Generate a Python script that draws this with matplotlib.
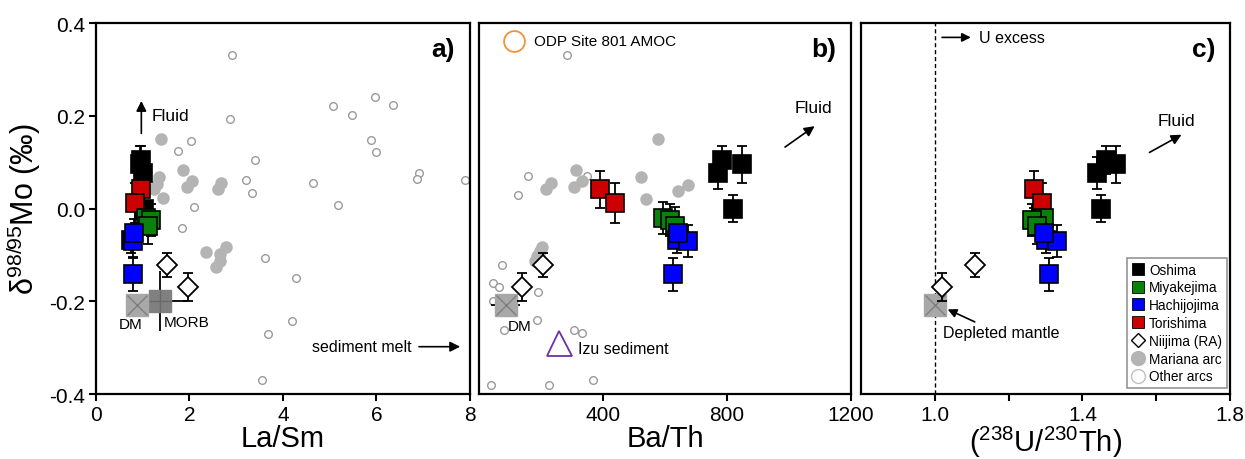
import numpy as np
import matplotlib
matplotlib.use("Agg")
import matplotlib.pyplot as plt
from matplotlib.lines import Line2D

plt.rcParams['font.family'] = ['Liberation Sans', 'DejaVu Sans']
plt.rcParams['mathtext.default'] = 'regular'

# island data: delta98/95Mo, 2sd error, La/Sm, Ba/Th, (238U/230Th)
oshima_mo = [0.077, 0.095, 0.0, 0.105]
oshima_err = [0.035, 0.04, 0.03, 0.03]
oshima_lasm = [1.0, 0.95, 1.03, 0.97]
oshima_bath = [772, 847, 818, 783]
oshima_uth = [1.44, 1.49, 1.45, 1.465]

miyake_mo = [-0.02, -0.025, -0.037]
miyake_err = [0.035, 0.035, 0.04]
miyake_lasm = [1.07, 1.18, 1.12]
miyake_bath = [595, 616, 632]
miyake_uth = [1.296, 1.264, 1.278]

hachi_mo = [-0.067, -0.07, -0.052, -0.142]
hachi_err = [0.03, 0.035, 0.03, 0.035]
hachi_lasm = [0.75, 0.8, 0.81, 0.79]
hachi_bath = [638, 675, 643, 625]
hachi_uth = [1.30, 1.33, 1.297, 1.31]

tori_mo = [0.041, 0.011]
tori_err = [0.04, 0.043]
tori_lasm = [0.97, 0.84]
tori_bath = [390, 439]
tori_uth = [1.27, 1.29]

niijima_mo = [-0.122, -0.17]
niijima_err = [0.025, 0.03]
niijima_lasm = [1.52, 1.97]
niijima_bath = [207, 140]
niijima_uth = [1.11, 1.02]

dm_mo = -0.209
dm_lasm = 0.87
dm_bath = 86
dm_bath_err = 48
dm_uth = 1.0

morb_mo = -0.2
morb_lasm = 1.36
morb_lasm_err = 0.6
morb_mo_err = 0.065

# Mariana arc (filled) and other arcs (open) literature data
mariana_lasm = [1.39, 1.35, 1.30, 1.25, 1.43, 1.86, 1.95, 2.06, 2.61, 2.68, 2.35, 2.65, 2.65, 2.56, 2.78]
mariana_lasm_mo = [0.150, 0.068, 0.053, 0.042, 0.022, 0.082, 0.047, 0.060, 0.043, 0.055, -0.093, -0.099, -0.113, -0.127, -0.082]
other_lasm = [2.90, 2.86, 2.04, 1.75, 3.40, 3.21, 3.33, 2.10, 1.85, 3.61, 4.27, 4.20, 3.69, 3.56, 4.65,
              5.17, 5.08, 5.47, 5.96, 6.35, 5.89, 5.98, 6.91, 6.86, 7.89]
other_lasm_mo = [0.33, 0.193, 0.145, 0.124, 0.104, 0.062, 0.034, 0.004, -0.042, -0.107, -0.150, -0.242, -0.270, -0.370, 0.054,
                 0.008, 0.220, 0.201, 0.240, 0.223, 0.148, 0.121, 0.076, 0.063, 0.061]

mariana_bath = [578, 313, 331, 307, 234, 216, 523, 539, 643, 675, 202, 197, 186, 181]
mariana_bath_mo = [0.150, 0.082, 0.059, 0.047, 0.054, 0.043, 0.068, 0.021, 0.037, 0.050, -0.083, -0.092, -0.103, -0.113]
other_bath = [283, 157, 347, 127, 73, 46, 66, 191, 44, 188, 82, 307, 333, 39, 227, 369]
other_bath_mo = [0.33, 0.070, 0.071, 0.030, -0.121, -0.160, -0.170, -0.180, -0.2, -0.241, -0.261, -0.261, -0.269, -0.381, -0.381, -0.370]

islands = [
    ("Oshima", "#000000"),
    ("Miyakejima", "#0a820a"),
    ("Hachijojima", "#0000ff"),
    ("Torishima", "#cc0000"),
]

fig = plt.figure(figsize=(12.45, 4.6), dpi=100)
ax_a = fig.add_axes([0.0771, 0.1413, 0.3004, 0.8065])
ax_b = fig.add_axes([0.3847, 0.1413, 0.2988, 0.8065])
ax_c = fig.add_axes([0.6916, 0.1413, 0.2964, 0.8065])

grey_fill = "#b4b4b4"
grey_edge = "#9a9a9a"


def draw_islands(ax, xs):
    ys = [oshima_mo, miyake_mo, hachi_mo, tori_mo]
    errs = [oshima_err, miyake_err, hachi_err, tori_err]
    order = [0, 3, 1, 2]
    for i in order:
        name, col = islands[i]
        ax.errorbar(xs[i], ys[i], yerr=errs[i], fmt='none', ecolor='black',
                    elinewidth=1.3, capsize=3.5, capthick=1.3, zorder=5)
        ax.plot(xs[i], ys[i], 's', ms=12.5, mfc=col, mec='black', mew=1.2,
                ls='none', zorder=6)
    ax.errorbar(xs[4], niijima_mo, yerr=niijima_err, fmt='none', ecolor='black',
                elinewidth=1.3, capsize=3.5, capthick=1.3, zorder=5)
    ax.plot(xs[4], niijima_mo, 'D', ms=10, mfc='white', mec='black', mew=1.3,
            ls='none', zorder=6)


def draw_dm(ax, x):
    ax.plot(x, dm_mo, 's', ms=16, mfc="#a8a8a8", mec="#a8a8a8", zorder=4)
    ax.plot(x, dm_mo, 'x', ms=14, mec="#7f7f7f", mew=1.0, zorder=4)


def style(ax, xlim, xticks, labels, xlabel):
    ax.set_xlim(*xlim)
    ax.set_ylim(-0.4, 0.4)
    ax.set_xticks(xticks)
    ax.set_xticklabels(labels, fontsize=15)
    ax.set_xlabel(xlabel, fontsize=21, labelpad=0)
    for s in ax.spines.values():
        s.set_linewidth(1.6)
    ax.tick_params(axis='x', direction='out', length=5, width=1.5, pad=3)


# ---- a) La/Sm
ax = ax_a
ax.plot(other_lasm, other_lasm_mo, 'o', ms=5.5, mfc='white', mec=grey_edge, mew=1.0, zorder=2)
ax.plot(mariana_lasm, mariana_lasm_mo, 'o', ms=8, mfc=grey_fill, mec=grey_fill, zorder=2)
ax.errorbar(morb_lasm, morb_mo, xerr=morb_lasm_err, yerr=morb_mo_err, fmt='none',
            ecolor='black', elinewidth=1.3, capsize=0, zorder=3)
ax.plot(morb_lasm, morb_mo, 's', ms=16, mfc="#808080", mec="#808080", zorder=4)
ax.plot(morb_lasm, morb_mo, '+', ms=16, mec="#696969", mew=1.0, zorder=4)
draw_dm(ax, dm_lasm)
draw_islands(ax, [oshima_lasm, miyake_lasm, hachi_lasm, tori_lasm, niijima_lasm])
ax.annotate("", xy=(0.97, 0.238), xytext=(0.97, 0.156),
            arrowprops=dict(arrowstyle='-|>', color='black', lw=1.2, mutation_scale=15))
ax.text(1.18, 0.2, "Fluid", fontsize=12.5, va='center', ha='left')
ax.annotate("", xy=(7.85, -0.298), xytext=(6.85, -0.298),
            arrowprops=dict(arrowstyle='-|>', color='black', lw=1.2, mutation_scale=15))
ax.text(6.75, -0.298, "sediment melt", fontsize=11.5, va='center', ha='right')
ax.text(0.75, -0.25, "DM", fontsize=11, ha='center', va='center')
ax.text(1.45, -0.245, "MORB", fontsize=11, ha='left', va='center')
ax.text(0.96, 0.93, "a)", transform=ax.transAxes, fontsize=19, fontweight='bold',
        ha='right', va='center')
style(ax, (0, 8), [0, 2, 4, 6, 8], ["0", "2", "4", "6", "8"], "La/Sm")
ax.set_yticks([-0.4, -0.2, 0.0, 0.2, 0.4])
ax.set_yticklabels(["-0.4", "-0.2", "0.0", "0.2", "0.4"], fontsize=15)
ax.tick_params(axis='y', direction='out', length=5, width=1.5, pad=3)
ax.set_ylabel("δ$^{98/95}$Mo (‰)", fontsize=22, labelpad=4)

# ---- b) Ba/Th
ax = ax_b
ax.plot(other_bath, other_bath_mo, 'o', ms=5.5, mfc='white', mec=grey_edge, mew=1.0, zorder=2)
ax.plot(mariana_bath, mariana_bath_mo, 'o', ms=8, mfc=grey_fill, mec=grey_fill, zorder=2)
ax.errorbar(dm_bath, dm_mo, xerr=dm_bath_err, fmt='none', ecolor='black',
            elinewidth=1.3, capsize=0, zorder=3)
draw_dm(ax, dm_bath)
draw_islands(ax, [oshima_bath, miyake_bath, hachi_bath, tori_bath, niijima_bath])
ax.plot(114, 0.362, 'o', ms=15, mfc='none', mec="#f0923a", mew=1.3)
ax.text(178, 0.362, "ODP Site 801 AMOC", fontsize=11, va='center', ha='left')
ax.plot(259, -0.29, '^', ms=18, mfc='none', mec="#7030a0", mew=1.3)
ax.text(318, -0.302, "Izu sediment", fontsize=11.5, va='center', ha='left')
ax.text(130, -0.254, "DM", fontsize=11, ha='center', va='center')
ax.annotate("", xy=(1090, 0.181), xytext=(980, 0.129),
            arrowprops=dict(arrowstyle='-|>', color='black', lw=1.2, mutation_scale=15))
ax.text(1078, 0.218, "Fluid", fontsize=12.5, ha='center', va='center')
ax.text(0.96, 0.93, "b)", transform=ax.transAxes, fontsize=19, fontweight='bold',
        ha='right', va='center')
style(ax, (0, 1200), [400, 800, 1200], ["400", "800", "1200"], "Ba/Th")
ax.set_yticks([])

# ---- c) (238U/230Th)
ax = ax_c
ax.axvline(1.0, color='black', lw=1.0, ls=(0, (3, 2)), zorder=1)
draw_dm(ax, dm_uth)
draw_islands(ax, [oshima_uth, miyake_uth, hachi_uth, tori_uth, niijima_uth])
ax.annotate("", xy=(1.105, 0.369), xytext=(1.012, 0.369),
            arrowprops=dict(arrowstyle='-|>', color='black', lw=1.2, mutation_scale=13))
ax.text(1.12, 0.369, "U excess", fontsize=11.5, va='center', ha='left')
ax.annotate("", xy=(1.675, 0.162), xytext=(1.575, 0.118),
            arrowprops=dict(arrowstyle='-|>', color='black', lw=1.2, mutation_scale=15))
ax.text(1.656, 0.19, "Fluid", fontsize=12.5, ha='center', va='center')
ax.annotate("", xy=(1.028, -0.215), xytext=(1.115, -0.247),
            arrowprops=dict(arrowstyle='-|>', color='black', lw=1.2, mutation_scale=13))
ax.text(1.023, -0.268, "Depleted mantle", fontsize=11.5, ha='left', va='center')
ax.text(0.96, 0.93, "c)", transform=ax.transAxes, fontsize=19, fontweight='bold',
        ha='right', va='center')
style(ax, (0.8, 1.8), [1.0, 1.2, 1.4, 1.6, 1.8], ["1.0", "", "1.4", "", "1.8"],
      "($^{238}$U/$^{230}$Th)")
ax.set_yticks([])

handles = [Line2D([], [], marker='s', ls='none', ms=8, mfc=c, mec='black', mew=0.6)
           for _, c in islands]
handles.append(Line2D([], [], marker='D', ls='none', ms=7, mfc='white', mec='black', mew=1.0))
handles.append(Line2D([], [], marker='o', ls='none', ms=10, mfc=grey_fill, mec=grey_fill))
handles.append(Line2D([], [], marker='o', ls='none', ms=10, mfc='white', mec="#c0c0c0", mew=1.0))
labels = [n for n, _ in islands] + ["Niijima (RA)", "Mariana arc", "Other arcs"]
leg = ax.legend(handles, labels, loc='lower right', bbox_to_anchor=(0.995, 0.012),
                fontsize=9.8, frameon=True, fancybox=False, edgecolor="#7a7a7a",
                handlelength=0.9, handletextpad=0.35, labelspacing=0.28,
                borderpad=0.35, borderaxespad=0.1)
leg.get_frame().set_linewidth(1.2)

fig.savefig("out.png", dpi=100)
